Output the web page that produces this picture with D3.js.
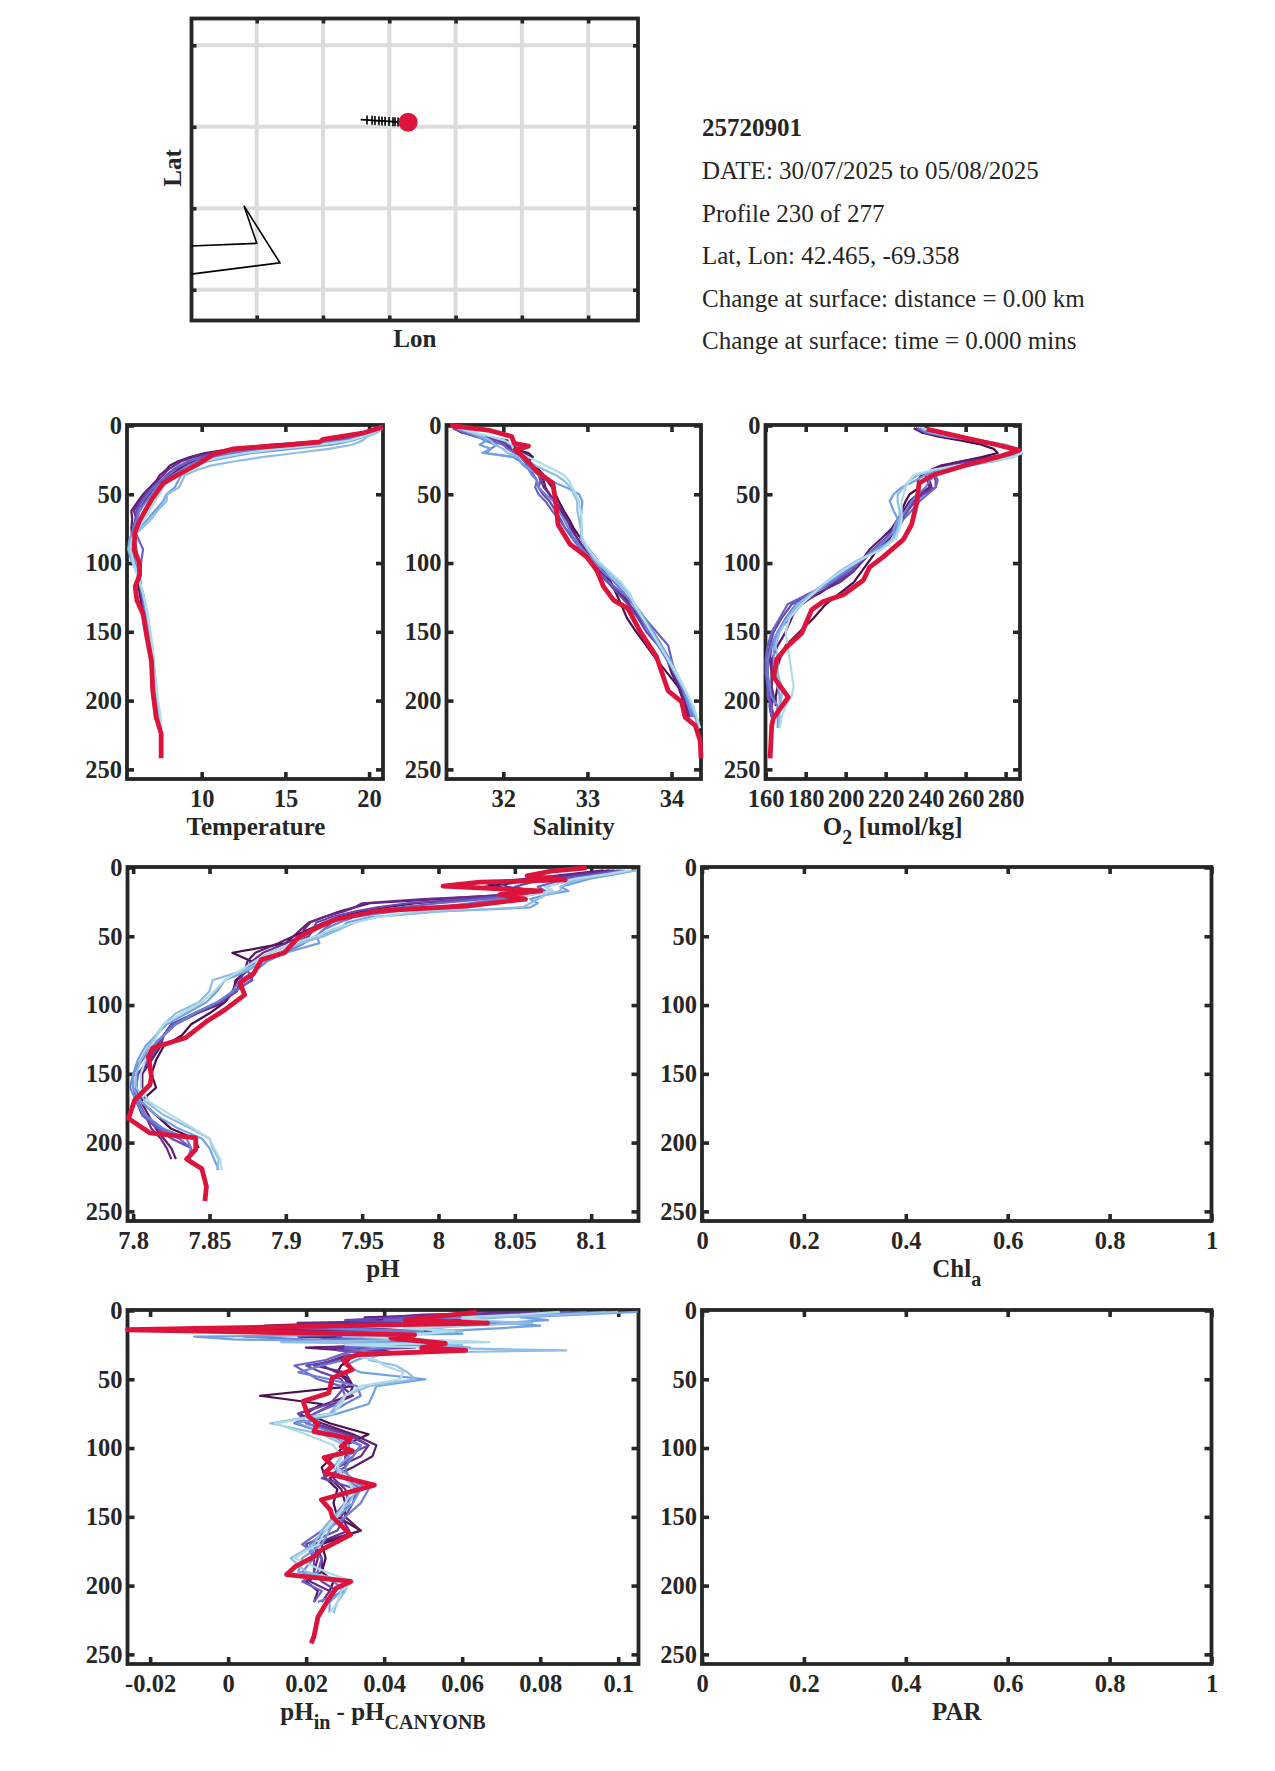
<!DOCTYPE html>
<html>
<head>
<meta charset="utf-8">
<script src="https://cdnjs.cloudflare.com/ajax/libs/d3/7.8.5/d3.min.js"></script>
<style>
body { margin: 0; background: #fff; }
text { font-family: "Liberation Serif", serif; fill: #262626; }
</style>
</head>
<body>
<script>
// depth levels shared by the nine older profiles, oldest/darkest first
const depthLevels = [2,5,8,11,14,17,20,23,26,29,32,36,40,45,50,55,62,68,75,82,90,98,106,114,122,130,140,150,160,170,180,190,197,204,212,220];
// the pH difference is noisier near the surface so it is read finer there
const diffLevels = [1,3,5,7,9,11,13,15,17,19,21,23,25,27,29,31,33,36,40,45,50,55,62,68,75,82,90,98,106,114,122,130,140,150,160,170,180,190,197,204,212,220];
const profileColors = ["#4a0d4f","#5c1a6b","#6a2a8c","#6a45ad","#6a62c8","#6c80d8","#72a0e4","#8ebde6","#b0dbe8"];
const currentColor = "#dc143c";

const tempProfiles = [
  [20.6,20.1,19.2,18.0,14.5,12.0,11.0,10.2,9.6,9.0,8.6,8.2,7.7,7.3,6.9,6.6,6.2,6.05,5.9,5.8,5.95,6.2,6.2,6.2,6.3,6.4,6.55,6.7,6.85,6.95,7.05,7.2,7.3,7.4],
  [20.7,20.0,18.8,17.5,14.0,11.8,10.2,9.3,8.6,8.1,7.9,7.5,7.3,6.9,6.5,6.2,5.8,5.85,5.8,5.85,6.0,6.2,6.25,6.3,6.35,6.5,6.65,6.8,6.95,7.0,7.1,7.2,7.25,7.3,7.4],
  [20.7,20.1,19.0,17.6,14.8,12.2,10.5,9.5,8.8,8.4,8.0,7.7,7.4,7.0,6.6,6.3,5.95,6.1,5.95,5.9,6.05,6.2,6.25,6.3,6.4,6.55,6.7,6.8,6.95,7.05,7.1,7.2,7.25,7.3,7.45],
  [20.6,20.2,19.3,18.0,15.2,12.6,11.0,10.0,9.2,8.7,8.3,7.9,7.6,7.1,6.7,6.4,6.1,6.05,6.0,5.95,6.1,6.2,6.25,6.35,6.4,6.5,6.7,6.85,7.0,7.05,7.1,7.2,7.3,7.35],
  [20.7,20.2,19.4,18.3,15.8,13.2,11.4,10.2,9.3,8.8,8.4,8.0,7.6,7.1,6.8,6.5,6.2,6.1,5.95,6.2,6.5,6.4,6.3,6.3,6.4,6.55,6.7,6.85,7.0,7.05,7.15,7.2,7.3,7.35,7.45],
  [20.8,20.3,19.5,18.6,16.6,14.0,12.0,10.7,9.8,9.2,8.8,8.3,7.8,7.3,7.0,6.7,6.3,6.15,5.9,5.75,5.85,6.0,6.25,6.3,6.45,6.6,6.75,6.85,7.0,7.05,7.15,7.25,7.3,7.35,7.45],
  [20.8,20.4,19.7,19.0,17.8,15.4,13.0,11.6,10.4,9.6,9.1,8.8,8.6,8.4,7.9,7.7,7.2,6.8,6.2,5.7,5.6,5.8,6.1,6.3,6.5,6.6,6.75,6.9,7.0,7.1,7.2,7.25,7.3,7.4,7.5,7.55],
  [20.8,20.5,19.9,19.6,19.0,17.6,15.6,13.6,12.0,10.6,9.8,9.0,8.85,8.65,7.95,7.9,7.35,7.0,6.4,5.8,5.65,5.85,6.1,6.3,6.5,6.65,6.8,6.9,7.05,7.1,7.2,7.3,7.35,7.4,7.5,7.6],
  [20.7,20.3,19.6,18.8,17.0,14.6,12.6,11.2,10.1,9.5,9.0,8.5,8.1,7.7,7.5,7.2,6.9,6.6,6.2,5.85,5.75,5.9,6.1,6.3,6.5,6.65,6.8,6.95,7.05,7.15,7.2,7.3,7.35,7.45,7.55,7.6]
];
const tempCurrent = [[20.83,1],[19.6,5.6],[17.25,10],[17.05,12],[14.67,14.6],[11.9,17],[10.7,21],[9.7,28.7],[8.7,35],[7.7,42],[7,54],[6.3,69],[6,78],[5.97,90.6],[6.29,100],[6.29,109],[6.03,117],[6.13,127],[6.5,137],[6.73,154],[7,171],[7.08,193],[7.28,212],[7.58,224],[7.58,242]];

const salProfiles = [
  [31.42,31.5,31.8,32.05,32.0,32.1,32.3,32.35,32.3,32.35,32.42,32.48,32.52,32.58,32.62,32.66,32.72,32.78,32.84,32.92,33.02,33.12,33.2,33.28,33.34,33.4,33.47,33.58,33.7,33.82,33.95,34.08,34.18,34.25],
  [31.42,31.55,31.75,32.0,32.05,32.2,32.25,32.32,32.3,32.36,32.4,32.44,32.48,32.5,32.55,32.6,32.68,32.75,32.82,32.88,32.97,33.06,33.16,33.26,33.38,33.55,33.68,33.78,33.88,33.95,34.0,34.08,34.12,34.16,34.2],
  [31.45,31.58,31.7,31.95,32.0,32.1,32.2,32.28,32.28,32.32,32.38,32.42,32.45,32.48,32.55,32.62,32.7,32.76,32.8,32.88,32.96,33.04,33.14,33.26,33.38,33.5,33.62,33.74,33.86,33.96,34.02,34.1,34.14,34.18,34.22],
  [31.4,31.5,31.72,31.95,32.05,32.12,32.15,32.22,32.28,32.32,32.36,32.42,32.44,32.42,32.47,32.55,32.62,32.68,32.74,32.84,32.94,33.02,33.1,33.24,33.36,33.48,33.6,33.7,33.84,33.96,34.05,34.12,34.18,34.22],
  [31.44,31.52,31.66,31.85,32.0,32.05,32.14,32.2,32.25,32.28,32.32,32.36,32.4,32.38,32.42,32.5,32.58,32.66,32.74,32.82,32.92,33.02,33.12,33.26,33.42,33.56,33.68,33.82,33.96,34.0,34.04,34.12,34.16,34.22,34.26],
  [31.45,31.58,31.7,31.78,31.92,31.85,31.8,32.12,32.2,32.24,32.3,32.34,32.4,32.42,32.5,32.6,32.66,32.72,32.78,32.84,32.94,33.06,33.18,33.32,33.44,33.54,33.64,33.74,33.84,33.94,34.04,34.12,34.16,34.2,34.24],
  [31.46,31.6,31.72,31.8,31.72,31.85,31.75,32.16,32.2,32.25,32.32,32.42,32.55,32.75,32.9,32.94,32.93,32.92,32.93,32.92,33.0,33.1,33.24,33.38,33.5,33.56,33.68,33.78,33.88,33.98,34.06,34.14,34.18,34.22,34.28,34.32],
  [31.46,31.62,31.76,31.85,31.9,32.0,32.05,32.2,32.3,32.38,32.48,32.62,32.72,32.8,32.84,32.88,32.88,32.9,32.92,32.93,33.0,33.1,33.22,33.36,33.48,33.55,33.66,33.76,33.86,33.96,34.04,34.14,34.2,34.24,34.3,34.32],
  [31.48,31.65,31.85,32.02,32.1,32.12,32.2,32.3,32.4,32.5,32.6,32.72,32.78,32.82,32.86,32.9,32.92,32.93,32.93,32.94,33.02,33.12,33.26,33.4,33.5,33.56,33.66,33.76,33.86,33.96,34.06,34.14,34.2,34.26,34.3,34.34]
];
const salCurrent = [[31.37,0],[31.84,3.6],[32.1,8],[32.13,13],[32.3,15],[32.14,17.7],[32.26,24],[32.4,33.5],[32.59,42],[32.63,59],[32.65,72],[32.79,86],[32.99,95.5],[33.11,105],[33.19,117],[33.31,127],[33.48,133],[33.62,149],[33.82,168],[33.96,193],[34.12,201],[34.16,212],[34.28,218],[34.34,229],[34.35,242]];

const oxyProfiles = [
  [235,238,246,258,268,274,276,268,258,250,244,238,236,237,232,230,228,227,225,222,216,212,208,204,197,190,184,177,170,167,165,166,165,165],
  [234,238,248,262,274,282,284,272,258,248,243,240,241,242,236,232,229,226,223,218,212,208,203,195,187,176,173,170,166,163,163,163,163,162,163],
  [235,239,250,264,276,284,285,274,262,252,246,242,242,243,238,234,231,228,224,220,214,209,204,197,186,178,172,166,163,162,163,163,164,163,164],
  [236,240,250,264,276,284,286,277,265,254,248,244,245,245,239,235,231,228,225,220,214,208,203,194,183,173,168,164,162,161,161,161,162,162,163],
  [236,240,250,266,278,285,286,279,268,258,250,245,246,245,241,237,233,229,226,221,214,208,201,193,182,171,167,163,161,160,160,161,161,163,163],
  [237,241,251,267,280,286,287,281,271,260,251,245,242,240,236,233,230,227,225,221,215,207,200,192,184,175,170,166,163,161,161,162,163,166,165],
  [238,243,253,268,280,286,288,283,274,262,250,240,235,228,224,222,224,226,224,224,216,207,198,191,184,177,171,166,164,164,165,166,167,167,166,166],
  [238,243,252,266,279,285,287,283,274,260,246,236,232,229,226,226,227,227,226,224,218,206,197,190,183,176,171,167,165,166,166,168,168,167,167,167],
  [239,245,255,268,279,286,288,284,272,256,244,234,232,230,229,228,228,228,227,225,218,207,198,190,184,178,172,170,171,172,173,174,173,170,168,167]
];
const oxyCurrent = [[240.5,2.7],[259.7,9],[275.5,14],[286.8,18],[277,22.6],[260.5,28.7],[243.8,36],[236.7,42],[235.5,56.6],[233,72],[228.8,83],[218.8,95.5],[212,103],[208.8,112.5],[198.8,123],[188.8,128],[183,134],[178,151],[170.5,161],[165.5,170],[164,183],[167,189],[171.3,197.5],[163.8,213],[163,218],[162.2,242]];

const phProfiles = [
  [8.112,8.09,8.07,8.05,8.03,8.055,8.05,8.02,7.985,7.965,7.95,7.935,7.925,7.915,7.905,7.9,7.865,7.877,7.875,7.867,7.866,7.86,7.85,7.838,7.832,7.82,7.815,7.812,7.815,7.805,7.815,7.825,7.84,7.843],
  [8.108,8.085,8.06,8.03,8.04,8.05,8.04,8.0,7.955,7.945,7.935,7.925,7.915,7.91,7.905,7.895,7.88,7.875,7.873,7.868,7.865,7.86,7.842,7.825,7.82,7.818,7.812,7.806,7.806,7.805,7.81,7.815,7.82,7.825,7.828],
  [8.115,8.09,8.06,8.04,8.045,8.06,8.045,7.99,7.95,7.945,7.938,7.925,7.916,7.912,7.91,7.9,7.885,7.878,7.873,7.87,7.868,7.857,7.84,7.825,7.82,7.815,7.812,7.803,7.802,7.803,7.808,7.812,7.818,7.822,7.825],
  [8.118,8.1,8.075,8.06,8.05,8.06,8.05,8.02,7.98,7.96,7.945,7.93,7.92,7.918,7.915,7.905,7.89,7.88,7.875,7.878,7.866,7.857,7.842,7.828,7.82,7.817,7.81,7.803,7.802,7.802,7.806,7.816,7.825,7.838],
  [8.12,8.105,8.085,8.075,8.065,8.07,8.055,8.03,8.0,7.975,7.955,7.94,7.93,7.925,7.92,7.91,7.897,7.885,7.88,7.877,7.867,7.855,7.84,7.826,7.82,7.812,7.806,7.8,7.8,7.803,7.806,7.818,7.83,7.838,7.837],
  [8.122,8.11,8.09,8.08,8.07,8.075,8.06,8.04,8.02,8.0,7.97,7.945,7.935,7.925,7.92,7.912,7.9,7.888,7.88,7.87,7.865,7.855,7.84,7.828,7.82,7.813,7.805,7.8,7.798,7.802,7.808,7.82,7.835,7.838,7.836],
  [8.13,8.115,8.1,8.09,8.08,8.085,8.07,8.06,8.065,8.06,8.0,7.955,7.94,7.935,7.92,7.922,7.9,7.885,7.875,7.86,7.855,7.848,7.835,7.822,7.815,7.808,7.803,7.8,7.8,7.805,7.815,7.83,7.845,7.85,7.853,7.856],
  [8.13,8.11,8.095,8.085,8.08,8.08,8.07,8.065,8.06,8.055,8.0,7.96,7.945,7.935,7.925,7.91,7.895,7.885,7.872,7.852,7.85,7.843,7.828,7.82,7.815,7.81,7.805,7.802,7.802,7.808,7.82,7.838,7.85,7.852,7.856,7.855],
  [8.125,8.11,8.09,8.08,8.07,8.075,8.06,8.05,8.04,8.02,7.985,7.96,7.945,7.93,7.92,7.905,7.89,7.88,7.87,7.86,7.853,7.845,7.832,7.82,7.816,7.812,7.808,7.805,7.805,7.81,7.825,7.84,7.85,7.853,7.857,7.858]
];
const phCurrent = [[8.097,0.3],[8.074,2.7],[8.058,6],[8.083,9],[8.027,10.7],[8.003,13.6],[8.067,17],[8.04,19.7],[8.057,23],[8.018,28],[7.975,30.6],[7.958,32],[7.932,38],[7.92,44],[7.908,51],[7.899,62],[7.884,67],[7.879,77],[7.87,84],[7.873,92.6],[7.86,103.5],[7.848,112],[7.834,124],[7.813,131],[7.81,137.5],[7.812,152],[7.811,158],[7.801,169],[7.797,182.5],[7.811,193],[7.841,196.5],[7.841,205],[7.835,212],[7.845,219],[7.848,232],[7.847,242.5]];

const diffProfiles = [
  [0.09,0.072,0.05,0.034,0.06,0.018,0.032,0.052,0.036,0.022,0.045,0.054,0.05,0.022,0.036,0.046,0.03,0.031,0.029,0.028,0.031,0.032,0.0082,0.024,0.02,0.026,0.036,0.03,0.027,0.024,0.025,0.028,0.027,0.028,0.034,0.024,0.025,0.024,0.027,0.026],
  [0.086,0.06,0.035,0.055,0.03,0.0094,0.03,0.05,0.034,0.018,0.04,0.05,0.045,0.02,0.03,0.038,0.03,0.027,0.024,0.028,0.03,0.032,0.031,0.025,0.018,0.024,0.032,0.038,0.037,0.032,0.026,0.029,0.03,0.03,0.034,0.022,0.024,0.024,0.02,0.023,0.022],
  [0.08,0.05,0.04,0.06,0.0178,0.03,-0.0066,0.04,0.044,0.03,0.042,0.055,0.044,0.024,0.04,0.042,0.032,0.027,0.022,0.03,0.031,0.029,0.032,0.027,0.022,0.022,0.031,0.036,0.034,0.028,0.027,0.03,0.031,0.029,0.031,0.022,0.023,0.022,0.021,0.026,0.024],
  [0.088,0.068,0.044,0.03,0.05,0.024,0.03,0.048,0.04,0.028,0.05,0.044,0.03,0.048,0.028,0.036,0.03,0.029,0.02,0.024,0.029,0.03,0.028,0.026,0.018,0.02,0.03,0.036,0.03,0.03,0.024,0.033,0.032,0.03,0.028,0.02,0.022,0.022,0.024,0.028],
  [0.092,0.075,0.055,0.04,0.065,0.035,0.02,0.046,0.03,0.04,0.024,0.05,0.042,0.03,0.034,0.03,0.028,0.025,0.017,0.02,0.023,0.029,0.03,0.028,0.022,0.017,0.026,0.034,0.032,0.028,0.03,0.034,0.03,0.027,0.024,0.019,0.024,0.023,0.019,0.024,0.022],
  [0.097,0.082,0.06,0.05,0.07,0.04,0.026,0.05,0.02,0.004,0.02,0.036,0.05,0.04,0.034,0.036,0.032,0.03,0.024,0.018,0.026,0.033,0.034,0.03,0.026,0.02,0.028,0.034,0.032,0.03,0.031,0.036,0.034,0.03,0.025,0.021,0.022,0.019,0.027,0.03,0.023],
  [0.105,0.09,0.075,0.082,0.07,0.08,0.069,0.055,0.06,-0.0087,0.0014,0.04,0.052,0.062,0.05,0.044,0.036,0.033,0.03,0.034,0.0506,0.038,0.037,0.036,0.028,0.0175,0.026,0.031,0.031,0.028,0.032,0.034,0.032,0.028,0.026,0.024,0.019,0.018,0.03,0.029,0.026,0.026],
  [0.1,0.085,0.07,0.06,0.078,0.062,0.05,0.06,0.045,0.0295,0.05,0.0136,0.06,0.05,0.0867,0.04,0.038,0.036,0.043,0.046,0.048,0.036,0.03,0.028,0.026,0.0108,0.024,0.03,0.029,0.027,0.03,0.033,0.031,0.027,0.024,0.022,0.016,0.02,0.031,0.03,0.028,0.027],
  [0.085,0.075,0.06,0.066,0.05,0.06,0.045,0.058,0.05,0.035,0.048,0.067,0.03,0.052,0.06,0.034,0.032,0.038,0.04,0.045,0.044,0.034,0.03,0.029,0.027,0.012,0.02,0.027,0.029,0.028,0.03,0.032,0.03,0.028,0.025,0.023,0.017,0.025,0.032,0.029,0.028,0.026]
];
const diffCurrent = [[0.0637,1.2],[0.0454,7],[0.0665,9.2],[-0.0258,14],[0.0478,17.7],[0.0417,20],[0.0557,24],[0.0496,27],[0.0609,29],[0.0333,32],[0.0295,36],[0.0318,43],[0.0267,49],[0.0258,60],[0.0192,66],[0.0206,77],[0.023,82],[0.022,88],[0.0314,93],[0.029,99],[0.0318,102],[0.0246,107],[0.0267,113],[0.0248,118],[0.0375,127],[0.0239,137.6],[0.0262,145],[0.0267,150],[0.0314,163],[0.0239,174],[0.022,179],[0.0173,186],[0.015,192],[0.0314,197],[0.0276,202],[0.0253,212],[0.023,223],[0.022,237],[0.0213,242]];

const depthTicks = [0,50,100,150,200,250];
const tempTicks = [10,15,20];
const salTicks = [32,33,34];
const oxyTicks = [160,180,200,220,240,260,280];
const phTicks = [7.8,7.85,7.9,7.95,8,8.05,8.1];
const unitTicks = [0,0.2,0.4,0.6,0.8,1];
const diffTicks = [-0.02,0,0.02,0.04,0.06,0.08,0.1];

// map
const lonGrid = [-70.5,-70,-69.5,-69,-68.5,-68];
const latGrid = [43.41,42.41,41.41,40.41];
const coastLon = [-71.1,-70.5,-70.596,-70.325,-71.1];
const coastLat = [40.94,40.98,41.44,40.74,40.58];
const trackLon = [-69.716,-69.668,-69.63,-69.608,-69.578,-69.555,-69.532,-69.502,-69.472,-69.457,-69.434];
const trackLat = [42.497,42.494,42.49,42.487,42.484,42.482,42.479,42.476,42.473,42.471,42.469];
const floatLon = -69.358, floatLat = 42.465;

const infoLines = ["25720901","DATE: 30/07/2025 to 05/08/2025","Profile 230 of 277","Lat, Lon: 42.465, -69.358","Change at surface: distance = 0.00 km","Change at surface: time = 0.000 mins"];

const ink = "#262626";
const svg = d3.select("body").append("svg").attr("width", 1275).attr("height", 1771);

function frame(g, w, h) {
  g.append("rect").attr("width", w).attr("height", h)
    .attr("fill", "none").attr("stroke", ink).attr("stroke-width", 3.8);
}

function styleAxis(a, size) {
  a.select(".domain").remove();
  a.selectAll("line").attr("stroke", ink).attr("stroke-width", 3.6);
  a.selectAll("text").attr("font-size", size).attr("font-weight", "bold").attr("fill", ink);
}

// label is a list of [string, isSubscript]
function addLabel(g, x, y, label, size) {
  let t = g.append("text").attr("x", x).attr("y", y).attr("text-anchor", "middle")
    .attr("font-weight", "bold").attr("font-size", size);
  let down = false;
  label.forEach(function(p) {
    let s = t.append("tspan").text(p[0]);
    if (p[1]) { s.attr("dy", 9).attr("font-size", size - 5); down = true; }
    else if (down) { s.attr("dy", -9); down = false; }
  });
}

function panel(cfg) {
  let w = cfg.x1 - cfg.x0, h = cfg.y1 - cfg.y0;
  let g = svg.append("g").attr("transform", "translate(" + cfg.x0 + "," + cfg.y0 + ")");
  let x = d3.scaleLinear().domain(cfg.xDomain).range([0, w]);
  let y = d3.scaleLinear().domain([0, 257]).range([0.5, h]);
  let fmt = function(d) { return String(d); };
  let levels = cfg.levels || depthLevels;

  frame(g, w, h);
  styleAxis(g.append("g").attr("transform", "translate(0," + h + ")")
    .call(d3.axisBottom(x).tickValues(cfg.ticks).tickFormat(fmt).tickSizeInner(-7).tickSizeOuter(0).tickPadding(10.5)), 24.5);
  styleAxis(g.append("g")
    .call(d3.axisTop(x).tickValues(cfg.ticks).tickFormat("").tickSizeInner(-7).tickSizeOuter(0)), 24.5);
  styleAxis(g.append("g")
    .call(d3.axisLeft(y).tickValues(depthTicks).tickFormat(fmt).tickSizeInner(-7).tickSizeOuter(0).tickPadding(5)), 24.5);
  styleAxis(g.append("g").attr("transform", "translate(" + w + ",0)")
    .call(d3.axisRight(y).tickValues(depthTicks).tickFormat("").tickSizeInner(-7).tickSizeOuter(0)), 24.5);

  let line = d3.line().x(function(d) { return x(d[0]); }).y(function(d) { return y(d[1]); });
  (cfg.profiles || []).forEach(function(vals, i) {
    g.append("path")
      .attr("d", line(vals.map(function(v, k) { return [v, levels[k]]; })))
      .attr("fill", "none").attr("stroke", profileColors[i]).attr("stroke-width", 2.2).attr("stroke-linejoin", "round");
  });
  if (cfg.current) {
    g.append("path").attr("d", line(cfg.current))
      .attr("fill", "none").attr("stroke", currentColor).attr("stroke-width", 4.8).attr("stroke-linejoin", "round");
  }
  addLabel(g, w / 2 + cfg.labelShift, h + 56, cfg.label, 25);
}

panel({x0:127, x1:383, y0:425, y1:779, xDomain:[5.54,20.83], ticks:tempTicks, profiles:tempProfiles, current:tempCurrent, label:[["Temperature"]], labelShift:1});
panel({x0:446.5, x1:701, y0:425, y1:779, xDomain:[31.325,34.35], ticks:salTicks, profiles:salProfiles, current:salCurrent, label:[["Salinity"]], labelShift:0});
panel({x0:765.5, x1:1020, y0:425, y1:779, xDomain:[159.9,287.2], ticks:oxyTicks, profiles:oxyProfiles, current:oxyCurrent, label:[["O"],["2",true],[" [umol/kg]"]], labelShift:0});
panel({x0:127.5, x1:638.5, y0:867, y1:1221, xDomain:[7.7963,8.131], ticks:phTicks, profiles:phProfiles, current:phCurrent, label:[["pH"]], labelShift:0});
panel({x0:702, x1:1211.5, y0:867, y1:1221, xDomain:[0,1], ticks:unitTicks, label:[["Chl"],["a",true]], labelShift:0});
panel({x0:127.5, x1:638.5, y0:1310, y1:1664, xDomain:[-0.0258,0.1052], ticks:diffTicks, levels:diffLevels, profiles:diffProfiles, current:diffCurrent, label:[["pH"],["in",true],[" - pH"],["CANYONB",true]], labelShift:0});
panel({x0:702, x1:1211.5, y0:1310, y1:1664, xDomain:[0,1], ticks:unitTicks, label:[["PAR"]], labelShift:0});

// position map
let mw = 446.5, mh = 302;
let m = svg.append("g").attr("transform", "translate(191.5,18.5)");
let lonS = d3.scaleLinear().domain([-70.992,-67.624]).range([0, mw]);
let latS = d3.scaleLinear().domain([43.739,40.033]).range([0, mh]);

svg.append("clipPath").attr("id", "mapClip").append("rect")
  .attr("width", mw).attr("height", mh);

m.selectAll(".gx").data(lonGrid).enter().append("line")
  .attr("x1", function(d) { return lonS(d); }).attr("x2", function(d) { return lonS(d); })
  .attr("y1", 0).attr("y2", mh).attr("stroke", "#dcdcdc").attr("stroke-width", 4);
m.selectAll(".gy").data(latGrid).enter().append("line")
  .attr("y1", function(d) { return latS(d); }).attr("y2", function(d) { return latS(d); })
  .attr("x1", 0).attr("x2", mw).attr("stroke", "#dcdcdc").attr("stroke-width", 4);

frame(m, mw, mh);
styleAxis(m.append("g").attr("transform", "translate(0," + mh + ")").call(d3.axisBottom(lonS).tickValues(lonGrid).tickFormat("").tickSizeInner(-5).tickSizeOuter(0)), 24);
styleAxis(m.append("g").call(d3.axisTop(lonS).tickValues(lonGrid).tickFormat("").tickSizeInner(-5).tickSizeOuter(0)), 24);
styleAxis(m.append("g").call(d3.axisLeft(latS).tickValues(latGrid).tickFormat("").tickSizeInner(-5).tickSizeOuter(0)), 24);
styleAxis(m.append("g").attr("transform", "translate(" + mw + ",0)").call(d3.axisRight(latS).tickValues(latGrid).tickFormat("").tickSizeInner(-5).tickSizeOuter(0)), 24);

let mapLine = d3.line().x(function(d) { return lonS(d[0]); }).y(function(d) { return latS(d[1]); });
m.append("path").attr("d", mapLine(d3.zip(coastLon, coastLat)))
  .attr("clip-path", "url(#mapClip)").attr("fill", "none").attr("stroke", "#000").attr("stroke-width", 1.6);
m.append("path").attr("d", mapLine(d3.zip(trackLon, trackLat)))
  .attr("fill", "none").attr("stroke", "#000").attr("stroke-width", 1.8);
m.selectAll(".trk").data(d3.zip(trackLon, trackLat).slice(1)).enter().append("path")
  .attr("transform", function(d) { return "translate(" + lonS(d[0]) + "," + latS(d[1]) + ")"; })
  .attr("d", "M0,-4.5V4.5").attr("stroke", "#000").attr("stroke-width", 1.6);
m.append("circle").attr("cx", lonS(floatLon)).attr("cy", latS(floatLat)).attr("r", 9.5).attr("fill", currentColor);

m.append("text").attr("x", mw / 2).attr("y", mh + 26).attr("text-anchor", "middle")
  .attr("font-size", 25).attr("font-weight", "bold").text("Lon");
svg.append("text").attr("transform", "translate(181,168) rotate(-90)").attr("text-anchor", "middle")
  .attr("font-size", 25).attr("font-weight", "bold").text("Lat");

// info text
let infoY = [136,179,222,264,307,349];
svg.selectAll(".info").data(infoLines).enter().append("text")
  .attr("x", 702).attr("y", function(d, i) { return infoY[i]; })
  .attr("font-size", 25)
  .attr("font-weight", function(d, i) { return i == 0 ? "bold" : "normal"; })
  .text(function(d) { return d; });
</script>
</body>
</html>
